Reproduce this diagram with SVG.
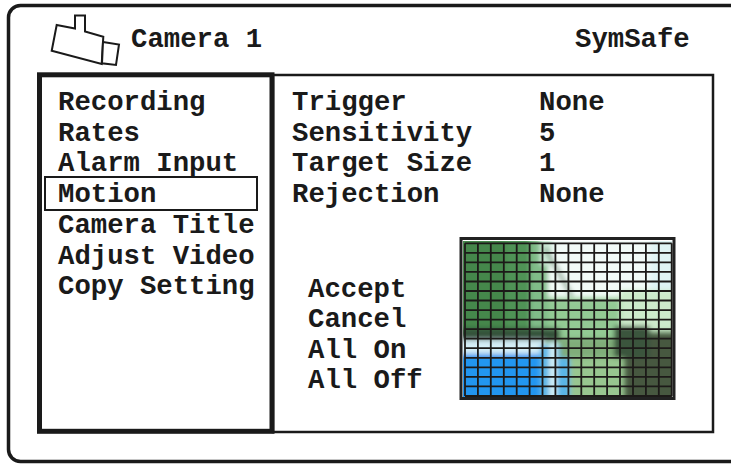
<svg xmlns="http://www.w3.org/2000/svg" width="731" height="464" viewBox="0 0 731 464">
  <style>
    .t { font-family: "Liberation Mono", "Courier New", monospace; font-weight: bold; font-size: 27.3px; fill: #1a1a1a; }
    .ln { stroke: #1c1a18; stroke-width: 1.8; }
  </style>
  <defs>
    <clipPath id="imgclip"><rect x="463" y="241" width="209" height="156"/></clipPath>
    <filter id="soft" x="-5%" y="-5%" width="110%" height="110%"><feGaussianBlur stdDeviation="2.5"/></filter>
  </defs>
  <rect width="731" height="464" fill="#ffffff"/>

  <g id="frame">
    <rect x="8.5" y="5.5" width="740" height="456" rx="12" fill="none" stroke="#1a1a1a" stroke-width="3.5"/>
  </g>

  <g id="header">
    <g id="camera-icon" fill="#ffffff" stroke="#1a1a1a" stroke-width="2" stroke-linejoin="miter">
      <path d="M56.7,25 L75,28.5 L75,15.5 L85,15.5 L85,31.5 L103.3,36.7 L101.7,64 L51.7,50.7 Z"/>
      <path d="M103,42 L119,44.5 L116,65 L102,63.3 Z"/>
    </g>
    <text class="t" x="131" y="47">Camera 1</text>
    <text class="t" x="575" y="47">SymSafe</text>
  </g>

  <g id="settings-panel">
    <rect x="273" y="75" width="440" height="357" fill="none" stroke="#1a1a1a" stroke-width="2.5"/>
  </g>

  <g id="menu">
    <rect x="39.5" y="74.8" width="232.5" height="356.5" fill="#ffffff" stroke="#1a1a1a" stroke-width="5"/>
    <rect x="45" y="177" width="212" height="33" fill="none" stroke="#1a1a1a" stroke-width="2"/>
    <text class="t" x="58" y="110">Recording</text>
    <text class="t" x="58" y="140.7">Rates</text>
    <text class="t" x="58" y="171.4">Alarm Input</text>
    <text class="t" x="58" y="202">Motion</text>
    <text class="t" x="58" y="232.8">Camera Title</text>
    <text class="t" x="58" y="263.5">Adjust Video</text>
    <text class="t" x="58" y="294.2">Copy Setting</text>
  </g>

  <g id="settings">
    <text class="t" x="292" y="110">Trigger</text>
    <text class="t" x="539" y="110">None</text>
    <text class="t" x="292" y="140.7">Sensitivity</text>
    <text class="t" x="539" y="140.7">5</text>
    <text class="t" x="292" y="171.4">Target Size</text>
    <text class="t" x="539" y="171.4">1</text>
    <text class="t" x="292" y="202">Rejection</text>
    <text class="t" x="539" y="202">None</text>
  </g>

  <g id="actions">
    <text class="t" x="308" y="296.5">Accept</text>
    <text class="t" x="308" y="327">Cancel</text>
    <text class="t" x="308" y="357.5">All On</text>
    <text class="t" x="308" y="388">All Off</text>
  </g>

  <g id="motion-grid">
    <rect x="461" y="238.5" width="213" height="160" fill="#ffffff" stroke="#222222" stroke-width="3"/>
    <g clip-path="url(#imgclip)">
      <g filter="url(#soft)">
        <rect x="455" y="235" width="225" height="170" fill="#a8d6a6"/>
        <rect x="548" y="235" width="130" height="62" fill="#f2fbf7"/>
        <rect x="650" y="235" width="28" height="55" fill="#dff4f4"/>
        <rect x="455" y="235" width="75" height="95" fill="#509357"/>
        <rect x="455" y="235" width="50" height="95" fill="#45874c"/>
        <rect x="530" y="235" width="18" height="95" fill="#80bc88"/>
        <rect x="540" y="235" width="12" height="30" fill="#cdebd8"/>
        <rect x="548" y="300" width="72" height="40" fill="#93ca94"/>
        <rect x="620" y="290" width="58" height="40" fill="#cdeacb"/>
        <line x1="545" y1="248" x2="572" y2="296" stroke="#6a8a70" stroke-width="3"/>
        <rect x="455" y="328" width="105" height="13" fill="#34523a"/>
        <rect x="455" y="340" width="90" height="16" fill="#d4eef6"/>
        <rect x="455" y="354" width="90" height="50" fill="#2196f0"/>
        <rect x="540" y="345" width="30" height="60" fill="#5ab6e6"/>
        <rect x="549" y="342" width="8" height="60" fill="#cfeef5"/>
        <rect x="570" y="340" width="55" height="65" fill="#98c690"/>
        <rect x="560" y="338" width="60" height="20" fill="#80ad7a"/>
        <rect x="624" y="332" width="54" height="73" fill="#46593f"/>
        <rect x="614" y="326" width="36" height="32" fill="#3a553e"/>
      </g>
    </g>
    <g class="ln">
      <line x1="465" y1="243.3" x2="465" y2="396"/>
      <line x1="477.9" y1="243.3" x2="477.9" y2="396"/>
      <line x1="490.8" y1="243.3" x2="490.8" y2="396"/>
      <line x1="503.8" y1="243.3" x2="503.8" y2="396"/>
      <line x1="516.7" y1="243.3" x2="516.7" y2="396"/>
      <line x1="529.6" y1="243.3" x2="529.6" y2="396"/>
      <line x1="542.5" y1="243.3" x2="542.5" y2="396"/>
      <line x1="555.4" y1="243.3" x2="555.4" y2="396"/>
      <line x1="568.4" y1="243.3" x2="568.4" y2="396"/>
      <line x1="581.3" y1="243.3" x2="581.3" y2="396"/>
      <line x1="594.2" y1="243.3" x2="594.2" y2="396"/>
      <line x1="607.1" y1="243.3" x2="607.1" y2="396"/>
      <line x1="620" y1="243.3" x2="620" y2="396"/>
      <line x1="633" y1="243.3" x2="633" y2="396"/>
      <line x1="645.9" y1="243.3" x2="645.9" y2="396"/>
      <line x1="658.8" y1="243.3" x2="658.8" y2="396"/>
      <line x1="671.7" y1="243.3" x2="671.7" y2="396"/>
      <line x1="465" y1="243.3" x2="671.7" y2="243.3"/>
      <line x1="465" y1="252.8" x2="671.7" y2="252.8"/>
      <line x1="465" y1="262.4" x2="671.7" y2="262.4"/>
      <line x1="465" y1="271.9" x2="671.7" y2="271.9"/>
      <line x1="465" y1="281.5" x2="671.7" y2="281.5"/>
      <line x1="465" y1="291" x2="671.7" y2="291"/>
      <line x1="465" y1="300.5" x2="671.7" y2="300.5"/>
      <line x1="465" y1="310.1" x2="671.7" y2="310.1"/>
      <line x1="465" y1="319.6" x2="671.7" y2="319.6"/>
      <line x1="465" y1="329.2" x2="671.7" y2="329.2"/>
      <line x1="465" y1="338.7" x2="671.7" y2="338.7"/>
      <line x1="465" y1="348.2" x2="671.7" y2="348.2"/>
      <line x1="465" y1="357.8" x2="671.7" y2="357.8"/>
      <line x1="465" y1="367.3" x2="671.7" y2="367.3"/>
      <line x1="465" y1="376.9" x2="671.7" y2="376.9"/>
      <line x1="465" y1="386.4" x2="671.7" y2="386.4"/>
      <line x1="465" y1="396" x2="671.7" y2="396"/>
    </g>
  </g>
</svg>
